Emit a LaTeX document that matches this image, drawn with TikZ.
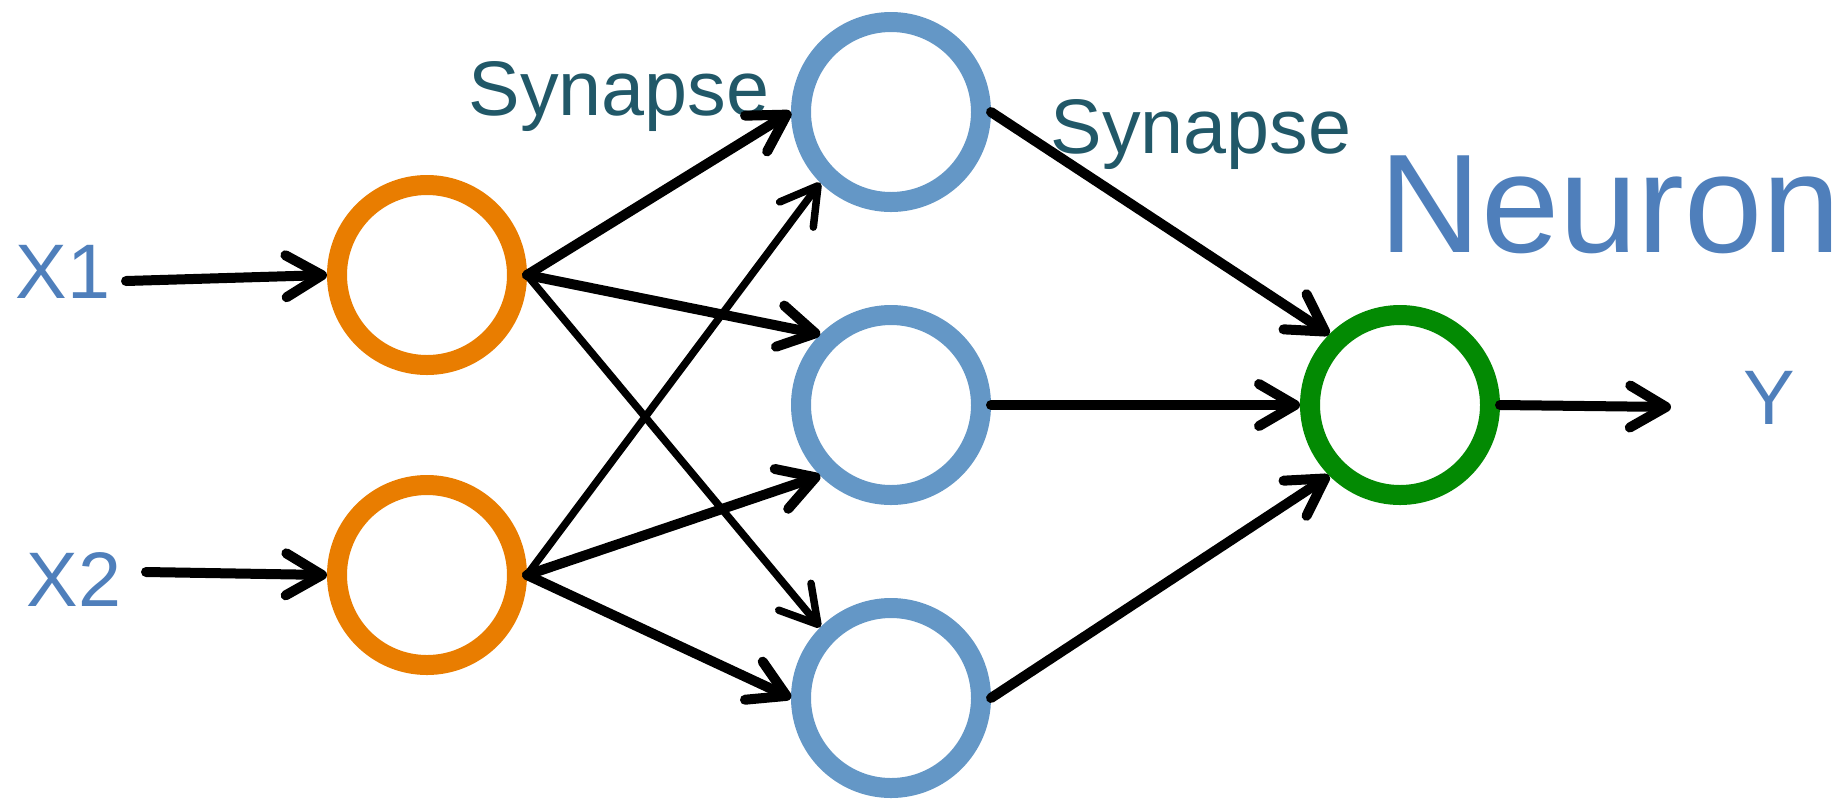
\documentclass[tikz,border=0pt]{standalone}
\usepackage{fontspec}
\setmainfont{Liberation Sans}
\usetikzlibrary{arrows.meta}
\definecolor{inorange}{HTML}{E97D00}
\definecolor{hidblue}{HTML}{6497C6}
\definecolor{outgreen}{HTML}{038A03}
\definecolor{labelblue}{HTML}{4F7FBB}
\definecolor{synteal}{HTML}{215868}
\begin{document}
\begin{tikzpicture}[
		unit/.style={circle, line width=0.20cm, minimum size=1.80cm, inner sep=0pt},
		wire/.style={line width=0.1cm, line cap=round, line join=round,
			-{Straight Barb[round, length=0.36cm, width=0.42cm]}},
		thinwire/.style={wire, line width=0.075cm},
		lbl/.style={anchor=base west, inner sep=0pt, text=labelblue,
			font=\fontsize{22}{26}\selectfont},
		syn/.style={lbl, text=synteal}
	]
		\useasboundingbox (0,0) rectangle (18.42,-7.99);
		
		\node[unit, draw=inorange] (in1) at (4.27, -2.75) {};
		\node[unit, draw=inorange] (in2) at (4.27, -5.75) {};
		\node[unit, draw=hidblue] (h1) at (8.91, -1.12) {};
		\node[unit, draw=hidblue] (h2) at (8.91, -4.05) {};
		\node[unit, draw=hidblue] (h3) at (8.91, -6.98) {};
		\node[unit, draw=outgreen] (out) at (14.00, -4.05) {};
		
		\node[lbl] (x1) at (0.15, -2.98) {X1};
		\node[lbl] (x2) at (0.26, -6.06) {X2};
		\node[lbl] (y) at (17.43, -4.24) {Y};
		\node[syn] (syn1) at (4.68, -1.15) {Synapse};
		\node[syn] (syn2) at (10.50, -1.53) {Synapse};
		\node[lbl, font=\fontsize{40}{48}\selectfont] (neuron) at (13.79, -2.52) {Neuron};
		
		\coordinate (x1s) at (1.26, -2.81);
		\coordinate (x2s) at (1.46, -5.72);
		\coordinate (ye) at (16.71, -4.07);
		
		\draw[wire] (x1s) -- (in1.west);
		\draw[wire] (x2s) -- (in2.west);
		
		\draw[wire] (in1.east) -- (h1.west);
		\draw[wire] (in1.east) -- (h2.135);
		\draw[thinwire] (in1.east) -- (h3.135);
		\draw[thinwire] (in2.east) -- (h1.225);
		\draw[wire] (in2.east) -- (h2.225);
		\draw[wire] (in2.east) -- (h3.west);
		
		\draw[wire] (h1.east) -- (out.135);
		\draw[wire] (h2.east) -- (out.west);
		\draw[wire] (h3.east) -- (out.225);
		\draw[wire] (out.east) -- (ye);
		\end{tikzpicture}
\end{document}
